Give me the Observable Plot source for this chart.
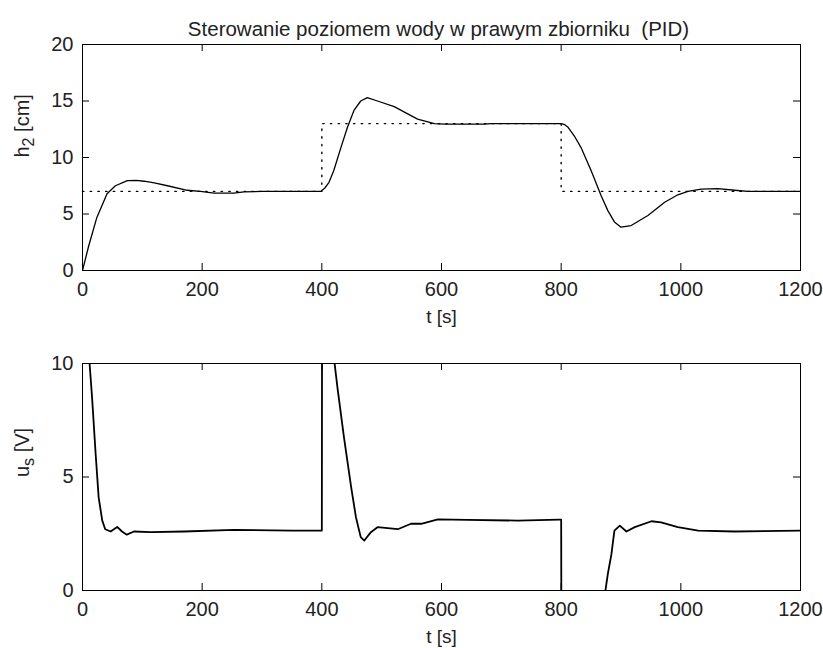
<!DOCTYPE html>
<html>
<head>
<meta charset="utf-8">
<script src="https://cdn.jsdelivr.net/npm/d3@7"></script>
<script src="https://cdn.jsdelivr.net/npm/@observablehq/plot@0.6"></script>
<style>
  body { margin: 0; background: #fff; }
  #chart { width: 823px; height: 648px; background: #fff; }
  #chart svg { display: block; }
  #chart text { white-space: pre; }
</style>
</head>
<body>
<div id="chart"></div>
<script>
// ---------- data ----------
const title = "Sterowanie poziomem wody w prawym zbiorniku  (PID)";
const xLabel = "t [s]";
const yLabelTop = "h2 [cm]";
const yLabelBottom = "us [V]";
const xTicks = [0, 200, 400, 600, 800, 1000, 1200];
const hTicks = [0, 5, 10, 15, 20];
const uTicks = [0, 5, 10];

// setpoint (step-after)
const setT = [0, 400, 800, 1200];
const setV = [7, 13, 7, 7];

// water level h2 [cm]
const hT = [0, 10, 24, 41, 55, 75, 90, 103, 120, 142, 175, 197, 220, 253, 270, 300, 350, 398,
  405, 412, 420, 432, 443, 454, 465, 476, 493, 521, 549, 560, 588, 605, 672, 683, 800,
  806, 811, 822, 833, 850, 867, 878, 889, 900, 917, 945, 973, 995, 1012, 1034, 1062, 1090, 1112, 1200];
const hV = [0, 2.1, 4.7, 6.8, 7.5, 7.95, 7.97, 7.9, 7.75, 7.5, 7.1, 7.0, 6.85, 6.85, 6.95, 7.0, 7.0, 7.0,
  7.3, 7.8, 8.85, 10.9, 12.7, 14.2, 15.0, 15.3, 15.0, 14.5, 13.7, 13.4, 13.0, 12.95, 12.95, 13.0, 13.0,
  12.9, 12.7, 11.9, 10.9, 8.85, 6.6, 5.3, 4.3, 3.83, 3.98, 4.87, 6.04, 6.7, 7.0, 7.2, 7.25, 7.1, 7.0, 7.0];

// control voltage u_s [V]
const uT = [0, 11, 16, 22, 27, 33, 38, 47, 58, 66, 74, 86, 114, 170, 253, 350, 400,
  400.5, 420, 426, 437, 449, 457, 465, 471, 482, 493, 510, 527, 549, 566, 594, 644, 727, 797, 800,
  800.5, 872, 874, 878, 884, 889, 898, 909, 923, 951, 967, 995, 1029, 1090, 1200];
const uV = [12, 10.3, 8.5, 6.0, 4.1, 3.08, 2.7, 2.6, 2.8, 2.6, 2.46, 2.6, 2.57, 2.6, 2.67, 2.64, 2.64,
  15, 10.3, 8.96, 6.75, 4.55, 3.23, 2.35, 2.2, 2.57, 2.79, 2.75, 2.7, 2.94, 2.94, 3.13, 3.11, 3.08, 3.12, 3.12,
  -3, -1, 0, 0.73, 1.6, 2.64, 2.86, 2.6, 2.79, 3.05, 3.0, 2.79, 2.64, 2.6, 2.64];

// ---------- build ----------
const FONT = "'Liberation Sans', Arial, sans-serif";
const W = 823, ML = 82, MR = 23;
const PW = W - ML - MR;
const TICK = 7;

const setRows = setT.map((t, i) => ({t, v: setV[i]}));
const hRows = hT.map((t, i) => ({t, v: hV[i]}));
const uRows = uT.map((t, i) => ({t, v: uV[i]}));

function panel({height, mt, mb, yDomain, yTicks, yLabel, marks, extra = []}) {
  const PH = height - mt - mb;
  return Plot.plot({
    width: W, height, marginLeft: ML, marginRight: MR, marginTop: mt, marginBottom: mb,
    style: {fontFamily: FONT, fontSize: "20px", background: "white", color: "black", overflow: "visible"},
    x: {domain: [0, 1200]},
    y: {domain: yDomain},
    marks: [
      ...marks,
      Plot.frame({stroke: "black", strokeWidth: 1}),
      Plot.ruleX(xTicks, {x: d => d, insetTop: PH - TICK, stroke: "black"}),
      Plot.ruleX(xTicks, {x: d => d, insetBottom: PH - TICK, stroke: "black"}),
      Plot.ruleY(yTicks, {y: d => d, insetRight: PW - TICK, stroke: "black"}),
      Plot.ruleY(yTicks, {y: d => d, insetLeft: PW - TICK, stroke: "black"}),
      Plot.axisX({ticks: xTicks, tickSize: 0, tickPadding: 11, label: null, fontSize: 20, fill: "#222", tickFormat: d => String(d)}),
      Plot.axisY({ticks: yTicks, tickSize: 0, tickPadding: 9, label: null, fontSize: 20, fill: "#222", tickFormat: d => String(d)}),
      Plot.text([xLabel], {text: d => d, frameAnchor: "bottom", dy: 46.5, lineAnchor: "middle", fontSize: 19, fill: "#222"}),
      Plot.text([yLabel], {text: d => d, frameAnchor: "left", dx: -60, rotate: -90, fontSize: 20, fill: "#222"}),
      ...extra
    ]
  });
}

const p1 = panel({
  height: 325, mt: 44, mb: 55, yDomain: [0, 20], yTicks: hTicks, yLabel: yLabelTop,
  marks: [
    Plot.line(setRows, {x: "t", y: "v", curve: "step-after", stroke: "black", strokeWidth: 1.4, strokeDasharray: "1.4,6.3"}),
    Plot.line(hRows, {x: "t", y: "v", stroke: "black", strokeWidth: 1.3, clip: true})
  ],
  extra: [Plot.text([title], {text: d => d, frameAnchor: "top", dy: -23, dx: -3, fontSize: 20.5, fill: "#222"})]
});

const p2 = panel({
  height: 323, mt: 38, mb: 58, yDomain: [0, 10], yTicks: uTicks, yLabel: yLabelBottom,
  marks: [
    Plot.line(uRows, {x: "t", y: "v", stroke: "black", strokeWidth: 1.8, clip: true})
  ]
});

function subscript(svg, full, base, sub, rest) {
  d3.select(svg).selectAll("text").filter(function () { return this.textContent === full; }).each(function () {
    const t = d3.select(this);
    t.selectAll("*").remove();
    t.text(null);
    t.append("tspan").text(base);
    t.append("tspan").attr("dy", 5).attr("font-size", "16px").text(sub);
    t.append("tspan").attr("dy", -5).text(rest);
  });
}
subscript(p1, yLabelTop, "h", "2", " [cm]");
subscript(p2, yLabelBottom, "u", "s", " [V]");

const chart = document.getElementById("chart");
chart.appendChild(p1);
chart.appendChild(p2);
</script>
</body>
</html>
